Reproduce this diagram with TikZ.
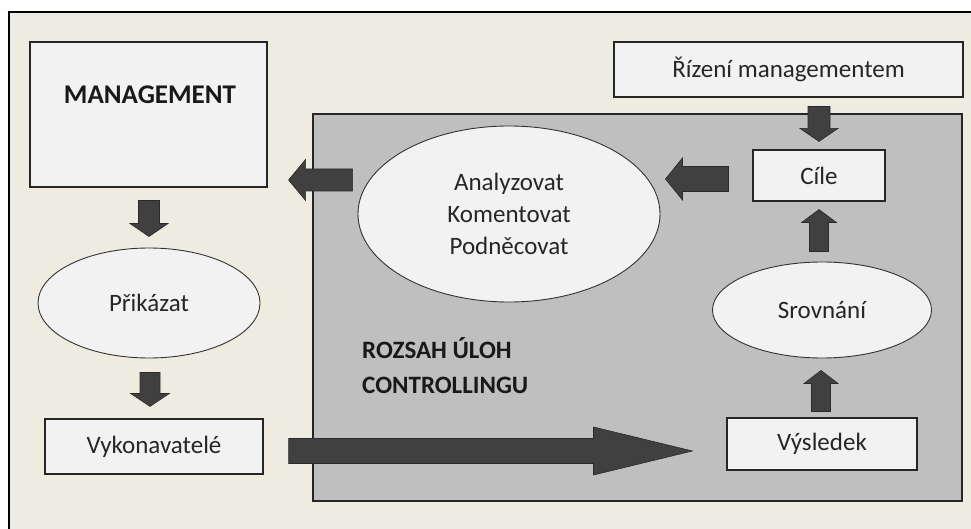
\documentclass[tikz,border=0pt]{standalone}
\usepackage{fontspec}
\setmainfont{Carlito}
\usetikzlibrary{shapes.geometric,calc}
\definecolor{bgtan}{HTML}{EEECE1}
\definecolor{grayzone}{HTML}{BFBFBF}
\definecolor{boxfill}{HTML}{F2F2F2}
\definecolor{arrowfill}{HTML}{404040}
\definecolor{arrowedge}{HTML}{2A2A2A}
% start, tip, shaft half width, head half width, head length
\newcommand\blockarr[5]{%
  \coordinate (bahead) at ($(#2)!#5!(#1)$);
  \filldraw[blockarrow] ($(#1)!#3!90:(#2)$) -- ($(bahead)!#3!90:(#2)$) --
    ($(bahead)!#4!90:(#2)$) -- (#2) -- ($(bahead)!#4!-90:(#2)$) --
    ($(bahead)!#3!-90:(#2)$) -- ($(#1)!#3!-90:(#2)$) -- cycle;}
\tikzset{
  txt/.style={font=\fontsize{25}{32}\selectfont, text=black!85},
  boldtxt/.style={font=\fontsize{25}{35}\selectfont\bfseries, text=black!90},
  box/.style={draw=black!85, line width=1.1pt, fill=boxfill, rectangle, inner sep=0pt, txt},
  oval/.style={draw=black!80, line width=0.9pt, fill=boxfill, ellipse, inner sep=0pt, txt, align=center},
  blockarrow/.style={fill=arrowfill, draw=arrowedge, line width=0.6pt, line join=miter},
  frame/.style={draw=black, line width=1.1pt, fill=bgtan},
  zone/.style={draw=black!85, line width=1.3pt, fill=grayzone}
}
\begin{document}
\begin{tikzpicture}[x=1pt, y=-1pt]
\useasboundingbox (0,0) rectangle (971,529);
\clip (0,0) rectangle (971,529);
\fill[white] (0,0) rectangle (971,529);
% outer frame
\draw[frame] (9,12) rectangle (990,550);
% controlling zone
\draw[zone] (313,114) rectangle (962,501);

% nodes
\node[box, minimum width=237pt, minimum height=145pt] (mgmt) at (148.5,114.5) {};
\node[font=\fontsize{27}{32}\selectfont\bfseries, text=black!90] (mgmttext) at (150,95) {MANAGEMENT};
\node[box, minimum width=349pt, minimum height=55pt] (rizeni) at (788.5,69.5) {Řízení managementem};
\node[box, minimum width=132pt, minimum height=51pt] (cile) at (819,175.5) {Cíle};
\node[oval, minimum width=302pt, minimum height=176pt] (anal) at (509,214) {Analyzovat\\Komentovat\\Podněcovat};
\node[oval, minimum width=222pt, minimum height=110pt] (prik) at (149,303) {Přikázat};
\node[box, minimum width=218pt, minimum height=55pt] (vyk) at (154,446.5) {Vykonavatelé};
\node[oval, minimum width=219pt, minimum height=96pt] (srov) at (822,310) {Srovnání};
\node[box, minimum width=190pt, minimum height=52pt] (vys) at (822,444) {Výsledek};
\node[boldtxt, anchor=base west, inner sep=0pt] (roz1) at (362,358) {ROZSAH ÚLOH};
\node[boldtxt, anchor=base west, inner sep=0pt] (roz2) at (362,393) {CONTROLLINGU};

% arrow end points
\coordinate (a1s) at ($(mgmt.south)+(0.5,13)$);
\coordinate (a1e) at ($(prik.north)+(0,-11)$);
\coordinate (a2s) at ($(prik.south)+(1,14)$);
\coordinate (a2e) at ($(vyk.north)+(-4,-12)$);
\coordinate (a3s) at ($(vyk.east)+(25,4.5)$);
\coordinate (a3e) at ($(vys.west)+(-34,7)$);
\coordinate (a4s) at ($(vys.north)+(-1,-6)$);
\coordinate (a4e) at ($(srov.south)+(-1,12)$);
\coordinate (a5s) at ($(srov.north)+(-3,-10)$);
\coordinate (a5e) at ($(cile.south)+(0,8)$);
\coordinate (a6s) at ($(rizeni.south)+(30.5,9)$);
\coordinate (a6e) at ($(cile.north)+(0,-8)$);
\coordinate (a7s) at ($(cile.west)+(-24,3.5)$);
\coordinate (a7e) at ($(anal.east)+(5,-35)$);
\coordinate (a8s) at ($(anal.west)+(-5,-34)$);
\coordinate (a8e) at ($(mgmt.east)+(21,65.5)$);

% block arrows
\blockarr{a1s}{a1e}{10.5pt}{19pt}{13pt}
\blockarr{a2s}{a2e}{10pt}{19.5pt}{13pt}
\blockarr{a3s}{a3e}{12.5pt}{24pt}{99pt}
\blockarr{a4s}{a4e}{9.5pt}{17pt}{13pt}
\blockarr{a5s}{a5e}{9.5pt}{17.5pt}{13pt}
\blockarr{a6s}{a6e}{11pt}{19pt}{13pt}
\blockarr{a7s}{a7e}{12.5pt}{21pt}{17pt}
\blockarr{a8s}{a8e}{11pt}{20.5pt}{17pt}
\end{tikzpicture}
\end{document}
